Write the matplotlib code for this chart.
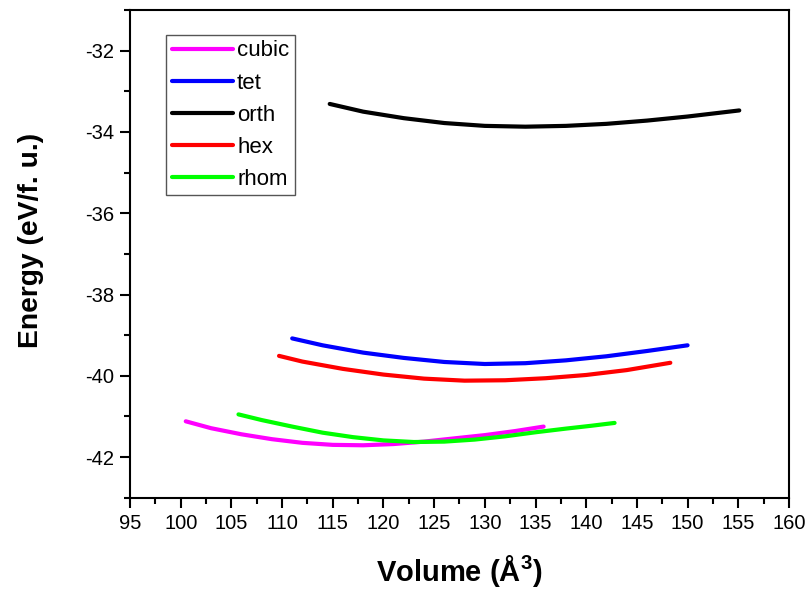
#!/usr/bin/env python3

import matplotlib
matplotlib.use("Agg")
import matplotlib.pyplot as plt
from matplotlib.ticker import MultipleLocator

plt.rcParams['font.family'] = ['Liberation Sans', 'DejaVu Sans']
plt.rcParams['axes.unicode_minus'] = False
plt.rcParams['mathtext.fontset'] = 'custom'
plt.rcParams['mathtext.rm'] = 'Liberation Sans'
plt.rcParams['mathtext.bf'] = 'Liberation Sans:bold'

# energy vs volume
CUBIC_V = [100.5, 103, 106, 109, 112, 115, 118, 121, 124, 127, 130, 133, 135.8]
CUBIC_E = [-41.12, -41.29, -41.44, -41.56, -41.65, -41.70, -41.71, -41.68, -41.62, -41.54, -41.46, -41.36, -41.25]

TET_V = [111.0, 114, 118, 122, 126, 130, 134, 138, 142, 146, 150.0]
TET_E = [-39.08, -39.25, -39.43, -39.56, -39.66, -39.71, -39.69, -39.62, -39.52, -39.39, -39.25]

ORTH_V = [114.7, 118, 122, 126, 130, 134, 138, 142, 146, 150, 155.1]
ORTH_E = [-33.31, -33.50, -33.66, -33.78, -33.85, -33.87, -33.85, -33.80, -33.72, -33.62, -33.47]

HEX_V = [109.7, 112, 116, 120, 124, 128, 132, 136, 140, 144, 148.3]
HEX_E = [-39.51, -39.65, -39.83, -39.97, -40.07, -40.12, -40.11, -40.06, -39.98, -39.86, -39.68]

RHOM_V = [105.7, 108, 111, 114, 117, 120, 123, 126, 129, 132, 135, 138, 140.5, 142.8]
RHOM_E = [-40.95, -41.09, -41.25, -41.40, -41.51, -41.59, -41.63, -41.62, -41.57, -41.49, -41.39, -41.30, -41.23, -41.16]

NAMES = ["cubic", "tet", "orth", "hex", "rhom"]
COLORS = ["#ff00ff", "#0000ff", "#000000", "#ff0000", "#00ff00"]

fig = plt.figure(figsize=(8.1, 5.92), dpi=100)
ax = fig.add_axes([0.1605, 0.1593, 0.8135, 0.8237])

series = [(CUBIC_V, CUBIC_E), (TET_V, TET_E), (ORTH_V, ORTH_E), (HEX_V, HEX_E), (RHOM_V, RHOM_E)]
for (v, e), name, col in zip(series, NAMES, COLORS):
    ax.plot(v, e, color=col, lw=3, label=name, solid_capstyle='round')

ax.set_xlim(95, 160)
ax.set_ylim(-43, -31)
ax.xaxis.set_major_locator(MultipleLocator(5))
ax.xaxis.set_minor_locator(MultipleLocator(2.5))
ax.yaxis.set_major_locator(MultipleLocator(2))
ax.yaxis.set_minor_locator(MultipleLocator(1))
ax.tick_params(which='major', length=7, width=1.5, labelsize=14.5, direction='out', pad=4.5)
ax.tick_params(which='minor', length=4, width=1.5, direction='out')
for s in ax.spines.values():
    s.set_linewidth(1.5)

ax.set_xlabel(r"Volume (Å$^{\mathbf{3}}$)", fontsize=21, fontweight='bold', labelpad=15)
ax.set_ylabel("Energy (eV/f. u.)", fontsize=20.3, fontweight='bold')
ax.yaxis.set_label_coords(-0.1305, 0.528)

leg = ax.legend(loc='upper left', bbox_to_anchor=(0.0546, 0.949), fontsize=16,
                handlelength=2.75, handletextpad=0.2, labelspacing=0.5,
                borderpad=0.25, borderaxespad=0, fancybox=False, framealpha=1)
leg.get_frame().set_edgecolor('#555555')
leg.get_frame().set_linewidth(1.0)

fig.savefig("out.png", dpi=100)
